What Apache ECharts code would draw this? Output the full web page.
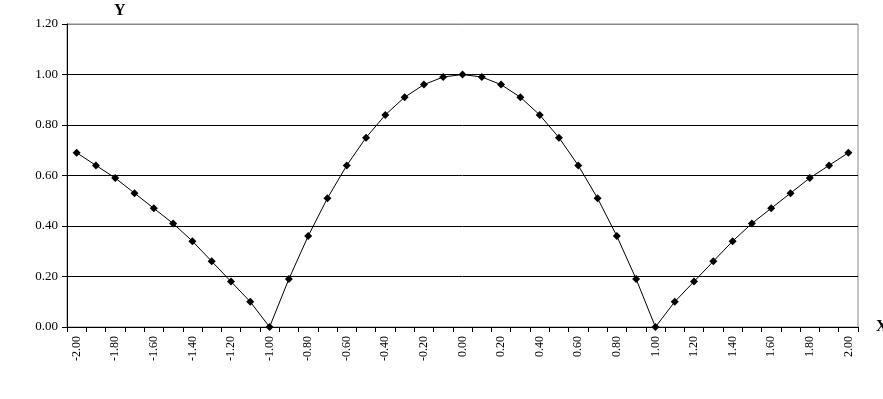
<!DOCTYPE html>
<html>
<head>
<meta charset="utf-8">
<script src="https://cdn.jsdelivr.net/npm/echarts@6/dist/echarts.min.js"></script>
<style>html,body{margin:0;padding:0;background:#fff;}#c{width:883px;height:399px;}</style>
</head>
<body>
<div id="c"></div>
<script>
var xLabels = ["-2.00","-1.90","-1.80","-1.70","-1.60","-1.50","-1.40","-1.30","-1.20","-1.10","-1.00","-0.90","-0.80","-0.70","-0.60","-0.50","-0.40","-0.30","-0.20","-0.10","0.00","0.10","0.20","0.30","0.40","0.50","0.60","0.70","0.80","0.90","1.00","1.10","1.20","1.30","1.40","1.50","1.60","1.70","1.80","1.90","2.00"];
var yValues = [0.69,0.64,0.59,0.53,0.47,0.41,0.34,0.26,0.18,0.10,0.00,0.19,0.36,0.51,0.64,0.75,0.84,0.91,0.96,0.99,1.00,0.99,0.96,0.91,0.84,0.75,0.64,0.51,0.36,0.19,0.00,0.10,0.18,0.26,0.34,0.41,0.47,0.53,0.59,0.64,0.69];
var yTicks = {min: 0, max: 1.2, interval: 0.2};

var chart = echarts.init(document.getElementById('c'));
var font = 'Liberation Serif';
chart.setOption({
  animation: false,
  backgroundColor: '#fff',
  grid: {left: 67, right: 25, top: 24, bottom: 72, show: true, borderColor: '#888', borderWidth: 1, containLabel: false},
  title: [
    {text: 'Y', left: 109, top: -2, textStyle: {fontFamily: font, fontWeight: 'bold', fontSize: 16, color: '#000'}},
    {text: 'X', left: 871, top: 314, textStyle: {fontFamily: font, fontWeight: 'bold', fontSize: 16, color: '#000'}}
  ],
  xAxis: {
    type: 'category',
    data: xLabels,
    boundaryGap: true,
    axisLine: {lineStyle: {color: '#000', width: 1}},
    axisTick: {show: true, interval: 0, length: 5, lineStyle: {color: '#000'}},
    axisLabel: {interval: 1, rotate: 90, margin: 9, fontFamily: font, fontSize: 12, color: '#000'},
    splitLine: {show: false}
  },
  yAxis: {
    type: 'value',
    min: yTicks.min, max: yTicks.max, interval: yTicks.interval,
    axisLine: {show: true, lineStyle: {color: '#000', width: 1}},
    axisTick: {show: true, length: 5, lineStyle: {color: '#000'}},
    axisLabel: {margin: 9, fontFamily: font, fontSize: 13, color: '#000', formatter: function(v){return v.toFixed(2);}},
    splitLine: {show: true, lineStyle: {color: ['#000','#000','#000','#000','#000','#000','#888'], width: 1}}
  },
  series: [{
    type: 'line',
    data: yValues,
    symbol: 'diamond',
    symbolSize: 8,
    showAllSymbol: true,
    lineStyle: {color: '#000', width: 1},
    itemStyle: {color: '#000', borderWidth: 0}
  }]
});
</script>
</body>
</html>
